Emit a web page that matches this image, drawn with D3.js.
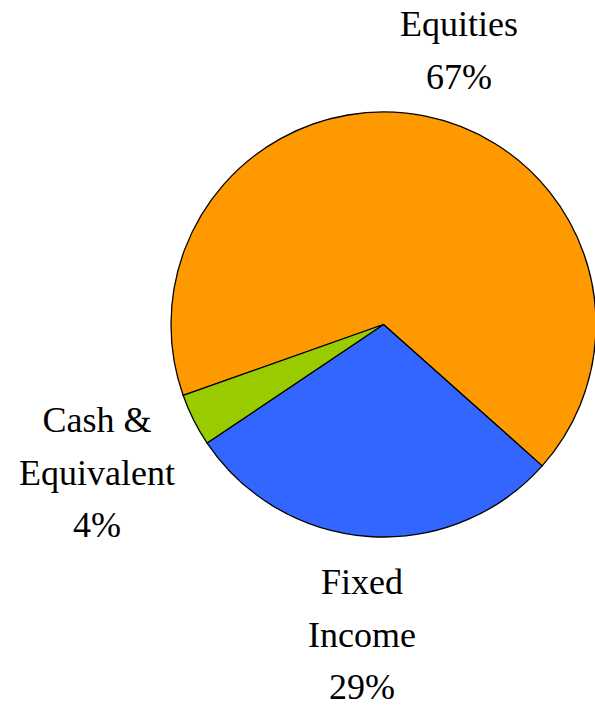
<!DOCTYPE html>
<html><head><meta charset="utf-8">
<script src="https://cdn.jsdelivr.net/npm/d3@7"></script>
<style>body{margin:0;background:#fff}</style>
</head><body>
<svg id="c" width="595" height="705"></svg>
<script>
const categories = ["Equities", "Fixed Income", "Cash & Equivalent"];
const values = [67, 29, 4];
const colors = ["#FF9900", "#3366FF", "#99CC00"];
const labelLines = [["Equities", "67%"], ["Fixed", "Income", "29%"], ["Cash &", "Equivalent", "4%"]];
// label anchor positions (layout)
const labelPos = [[459, 36], [362, 594], [97, 432]];

const svg = d3.select("#c");
const lh = 52.5;
const labelRows = [];
labelLines.forEach((lines, i) => lines.forEach((ln, j) => labelRows.push({ text: ln, x: labelPos[i][0], y: labelPos[i][1] + j * lh })));
svg.selectAll("text.lbl").data(labelRows).join("text")
  .attr("class", "lbl")
  .attr("x", d => d.x)
  .attr("y", d => d.y)
  .attr("text-anchor", "middle")
  .style("font-family", '"Liberation Serif"')
  .attr("font-size", 36)
  .text(d => d.text);

const cx = 383.5, cy = 324.5, r = 212.5;
const startDeg = 250.5;
const pie = d3.pie().sort(null).value(d => d)
  .startAngle(startDeg * Math.PI / 180)
  .endAngle((startDeg + 360) * Math.PI / 180);
const arc = d3.arc().innerRadius(0).outerRadius(r);
const g = svg.append("g").attr("transform", `translate(${cx},${cy})`);
g.selectAll("path").data(pie(values)).join("path")
  .attr("d", arc)
  .attr("fill", (d, i) => colors[i])
  .attr("stroke", "#000").attr("stroke-width", 1.3).attr("stroke-linejoin", "round");
</script>
</body></html>
